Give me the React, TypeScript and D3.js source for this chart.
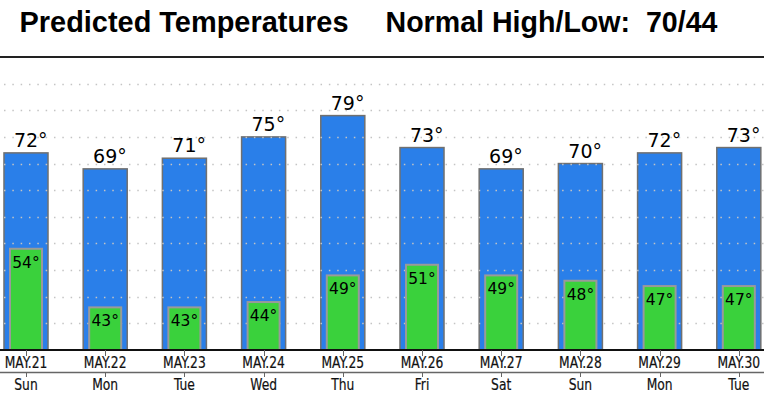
import React, { useRef, useEffect } from 'react';
import * as d3 from 'd3';

const dates = ['MAY.21', 'MAY.22', 'MAY.23', 'MAY.24', 'MAY.25', 'MAY.26', 'MAY.27', 'MAY.28', 'MAY.29', 'MAY.30'];
const weekdays = ['Sun', 'Mon', 'Tue', 'Wed', 'Thu', 'Fri', 'Sat', 'Sun', 'Mon', 'Tue'];
const highs = [72, 69, 71, 75, 79, 73, 69, 70, 72, 73];
const lows = [54, 43, 43, 44, 49, 51, 49, 48, 47, 47];
const gridTicks = [40, 45, 50, 55, 60, 65, 70, 75, 80, 85];

const width = 764;
const height = 395;

const App: React.FC = () => {
  const svgRef = useRef<SVGSVGElement>(null);

  useEffect(() => {
    if (!svgRef.current) return;
    const svg = d3.select(svgRef.current);
    svg.selectAll('*').remove();

    const baseY = 350;
    const topY = 57;

    const x = d3.scaleBand<string>()
      .domain(dates)
      .range([-13.6, 778.4])
      .paddingInner(0.444)
      .paddingOuter(0.222);
    const y = d3.scaleLinear().domain([35, 90]).range([baseY, topY]);

    const bw = x.bandwidth();
    const lowW = bw * 0.727;
    const cx = (d: string) => (x(d) || 0) + bw / 2;

    // title
    svg.append('text')
      .attr('x', 19.5)
      .attr('y', 31.5)
      .attr('textLength', 329)
      .attr('lengthAdjust', 'spacingAndGlyphs')
      .style('font-family', '"Liberation Sans", Arial, sans-serif')
      .style('font-weight', 'bold')
      .style('font-size', '29px')
      .style('fill', '#000')
      .text('Predicted Temperatures');

    svg.append('text')
      .attr('x', 385.5)
      .attr('y', 31.5)
      .attr('textLength', 332)
      .attr('lengthAdjust', 'spacingAndGlyphs')
      .style('font-family', '"Liberation Sans", Arial, sans-serif')
      .style('font-weight', 'bold')
      .style('font-size', '29px')
      .style('white-space', 'pre')
      .style('fill', '#000')
      .text('Normal High/Low:  70/44');

    // header rule
    svg.append('line')
      .attr('x1', 0).attr('x2', width)
      .attr('y1', topY).attr('y2', topY)
      .attr('stroke', '#222')
      .attr('stroke-width', 2);

    // high bars
    svg.append('g').selectAll('rect')
      .data(highs)
      .enter()
      .append('rect')
      .attr('x', (_, i) => x(dates[i]) || 0)
      .attr('y', d => y(d))
      .attr('width', bw)
      .attr('height', d => baseY - y(d))
      .attr('fill', '#2a7fe9')
      .attr('stroke', '#707070')
      .attr('stroke-width', 1.5);

    // dotted grid (on top of the blue bars, under the green ones)
    svg.append('g').selectAll('line')
      .data(gridTicks)
      .enter()
      .append('line')
      .attr('x1', 4).attr('x2', width)
      .attr('y1', d => Math.round(y(d)) + 0.5)
      .attr('y2', d => Math.round(y(d)) + 0.5)
      .attr('stroke', '#c4c4c4')
      .attr('stroke-width', 1.5)
      .attr('stroke-dasharray', '1.5,6.83');

    // low bars
    svg.append('g').selectAll('rect')
      .data(lows)
      .enter()
      .append('rect')
      .attr('x', (_, i) => cx(dates[i]) - lowW / 2)
      .attr('y', d => y(d))
      .attr('width', lowW)
      .attr('height', d => baseY - y(d))
      .attr('fill', '#3ad13c')
      .attr('stroke', '#9a9a9a')
      .attr('stroke-width', 2);

    // high labels: number centered, degree sign appended
    const highLabels = svg.append('g').selectAll('text')
      .data(highs)
      .enter()
      .append('text')
      .attr('y', d => y(d) - 6)
      .style('font-family', '"DejaVu Sans", sans-serif')
      .style('font-size', '19px')
      .style('fill', '#000')
      .text(d => `${d}°`);
    highLabels.each(function (d, i) {
      const el = this as SVGTextElement;
      const numW = el.getSubStringLength(0, String(d).length);
      d3.select(el).attr('x', cx(dates[i]) - numW / 2);
    });

    // low labels
    svg.append('g').selectAll('text')
      .data(lows)
      .enter()
      .append('text')
      .attr('x', (_, i) => cx(dates[i]))
      .attr('y', d => y(d) + 19)
      .attr('text-anchor', 'middle')
      .style('font-family', '"DejaVu Sans", sans-serif')
      .style('font-size', '15.5px')
      .style('fill', '#000')
      .text(d => `${d}°`);

    // baseline and lower rule
    svg.append('line')
      .attr('x1', 0).attr('x2', width)
      .attr('y1', baseY).attr('y2', baseY)
      .attr('stroke', '#111')
      .attr('stroke-width', 2);

    svg.append('line')
      .attr('x1', 0).attr('x2', width)
      .attr('y1', 372.5).attr('y2', 372.5)
      .attr('stroke', '#666')
      .attr('stroke-width', 1.5);

    const ticks = svg.append('g');
    const squeeze = 0.82;
    dates.forEach((d, i) => {
      const c = Math.round(cx(d)) + 0.5;
      ticks.append('line')
        .attr('x1', c).attr('x2', c)
        .attr('y1', baseY).attr('y2', 356)
        .attr('stroke', '#666')
        .attr('stroke-width', 1);
      ticks.append('line')
        .attr('x1', c).attr('x2', c)
        .attr('y1', 372).attr('y2', 377)
        .attr('stroke', '#666')
        .attr('stroke-width', 1);
      [{ label: d, yy: 367.5 }, { label: weekdays[i], yy: 390 }].forEach(({ label, yy }) => {
        const t = ticks.append('text')
          .attr('x', cx(d))
          .attr('y', yy)
          .attr('text-anchor', 'middle')
          .style('font-family', '"DejaVu Sans", sans-serif')
          .style('font-size', '15px')
          .style('fill', '#111')
          .style('stroke', '#111')
          .style('stroke-width', 0.2)
          .text(label);
        const node = t.node() as SVGTextElement;
        const w = node.getComputedTextLength();
        t.attr('textLength', w * squeeze).attr('lengthAdjust', 'spacingAndGlyphs');
      });
    });
  }, []);

  return (
    <svg
      ref={svgRef}
      width={width}
      height={height}
      style={{ position: 'absolute', left: 0, top: 0, background: '#fff' }}
    />
  );
};

export default App;
